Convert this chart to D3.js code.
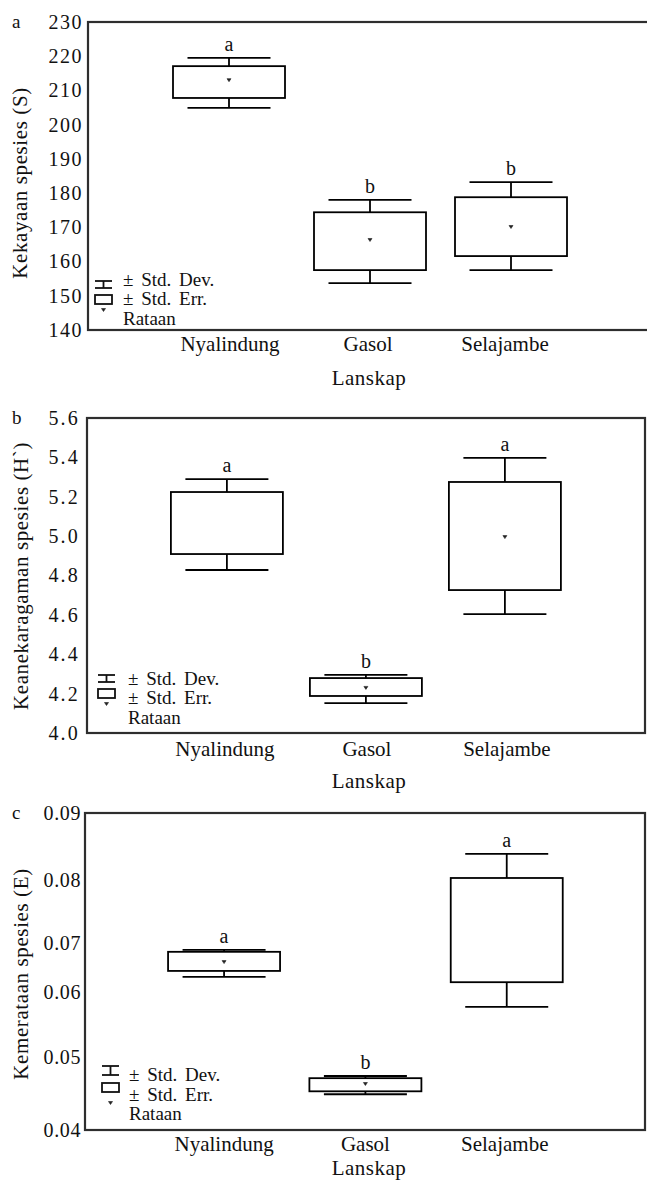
<!DOCTYPE html>
<html>
<head>
<meta charset="utf-8">
<script src="https://cdn.jsdelivr.net/npm/d3@7"></script>
<style>
  html, body { margin: 0; padding: 0; background: #fff; }
  svg { display: block; }
  svg text { font-family: "Liberation Serif", "Times New Roman", serif !important; fill: #111; }
</style>
</head>
<body>
<svg id="chart" width="647" height="1180"></svg>
<script>
// ---------- DATA ----------
const categories = ["Nyalindung", "Gasol", "Selajambe"];

// (a) Kekayaan spesies (S)
const richLowSD  = [204.9, 153.7, 157.5];
const richLowSE  = [207.8, 157.5, 161.6];
const richMean   = [213.0, 166.3, 170.1];
const richHighSE = [217.1, 174.4, 178.8];
const richHighSD = [219.5, 178.0, 183.2];
const richGroups = ["a", "b", "b"];
const richTicks  = [140, 150, 160, 170, 180, 190, 200, 210, 220, 230];

// (b) Keanekaragaman spesies (H`)
const divLowSD  = [4.828, 4.152, 4.604];
const divLowSE  = [4.909, 4.188, 4.726];
const divMean   = [null, 4.229, 4.995];
const divHighSE = [5.224, 4.279, 5.275];
const divHighSD = [5.290, 4.295, 5.397];
const divGroups = ["a", "b", "a"];
const divTicks  = [4.0, 4.2, 4.4, 4.6, 4.8, 5.0, 5.2, 5.4, 5.6];

// (c) Kemerataan spesies (E)
const evenLowSD  = [0.0631, 0.0449, 0.0577];
const evenLowSE  = [0.0643, 0.0453, 0.0620];
const evenMean   = [0.0661, 0.0463, null];
const evenHighSE = [0.0682, 0.0471, 0.0803];
const evenHighSD = [0.0686, 0.0474, 0.0839];
const evenGroups = ["a", "b", "a"];
const evenTicks  = [0.04, 0.05, 0.06, 0.07, 0.08, 0.09];

const legendLabels = ["\u00b1 Std. Dev.", "\u00b1 Std. Err.", "Rataan"];
const xTitle = "Lanskap";

// ---------- LAYOUT ----------
const FONT = "'Liberation Serif', 'Times New Roman', serif";
const panels = [
  {
    letter: "a", title: "Kekayaan spesies (S)",
    lowSD: richLowSD, lowSE: richLowSE, mean: richMean, highSE: richHighSE, highSD: richHighSD,
    groups: richGroups, ticks: richTicks, fmt: d3.format("d"),
    frame: {l: 88, t: 22, r: 649, b: 330},
    yDomain: [140, 230], yRange: [330, 22],
    xRange: [158.5, 581.5], labelShift: [1, -2, -6],
    tickPad: 5, tickLS: 1.5,
    titleX: 27, titleY: 183,
    catY: 351, xTitleY: 385,
    legend: {x: 95, wTop: 281, wBot: 288, bTop: 295, bBot: 304, mY: 310, tx: 123, ty: [286, 305, 325]}
  },
  {
    letter: "b", title: "Keanekaragaman spesies (H`)",
    lowSD: divLowSD, lowSE: divLowSE, mean: divMean, highSE: divHighSE, highSD: divHighSD,
    groups: divGroups, ticks: divTicks, fmt: d3.format(".1f"),
    frame: {l: 87, t: 418, r: 645, b: 733},
    yDomain: [4.0, 5.6], yRange: [733, 418],
    xRange: [157.4, 574.4], labelShift: [-2, 1, 2],
    tickPad: 7, tickLS: 2.2,
    titleX: 28, titleY: 576,
    catY: 756, xTitleY: 788,
    legend: {x: 98, wTop: 675, wBot: 682, bTop: 689, bBot: 698, mY: 704, tx: 128, ty: [685, 704, 724]}
  },
  {
    letter: "c", title: "Kemerataan spesies (E)",
    lowSD: evenLowSD, lowSE: evenLowSE, mean: evenMean, highSE: evenHighSE, highSD: evenHighSD,
    groups: evenGroups, ticks: evenTicks, fmt: d3.format(".2f"),
    frame: {l: 85, t: 813, r: 645, b: 1130},
    yDomain: [0.04, 0.05, 0.06, 0.07, 0.08, 0.09], yRange: [1130, 1057, 992, 943, 880, 813],
    xRange: [153.4, 577.4], labelShift: [0, 0, -2],
    tickPad: 4, tickLS: 0.6,
    titleX: 28, titleY: 974,
    catY: 1151, xTitleY: 1175,
    legend: {x: 102, wTop: 1066, wBot: 1075, bTop: 1083, bBot: 1092, mY: 1103, tx: 129, ty: [1081, 1101, 1120]}
  }
];

const BOX_W = 112, CAP_W = 83;
const svg = d3.select("#chart").attr("font-family", FONT);

panels.forEach(p => {
  const g = svg.append("g").attr("font-family", FONT);
  const x = d3.scaleBand().domain(categories).range(p.xRange);
  const y = d3.scaleLinear().domain(p.yDomain).range(p.yRange);
  const cx = c => x(c) + x.bandwidth() / 2;

  // frame
  g.append("rect")
    .attr("x", p.frame.l).attr("y", p.frame.t)
    .attr("width", p.frame.r - p.frame.l).attr("height", p.frame.b - p.frame.t)
    .attr("fill", "none").attr("stroke", "#2e2e2e").attr("stroke-width", 2.2);

  // y axis labels
  const ax = g.append("g")
    .attr("transform", `translate(${p.frame.l},0)`)
    .call(d3.axisLeft(y).tickValues(p.ticks).tickFormat(p.fmt).tickSize(0).tickPadding(p.tickPad));
  ax.attr("font-family", FONT).attr("font-size", 20);
  ax.select(".domain").remove();
  ax.selectAll("text")
    .attr("font-family", FONT)
    .attr("font-size", 20)
    .attr("letter-spacing", p.tickLS)
    .attr("fill", "#111");

  // panel letter
  g.append("text").attr("x", 12).attr("y", p.frame.t + 6)
    .attr("font-family", FONT).attr("font-size", 19).text(p.letter);

  // y title
  g.append("text")
    .attr("transform", `translate(${p.titleX},${p.titleY}) rotate(-90)`)
    .attr("text-anchor", "middle")
    .attr("font-family", FONT).attr("font-size", 21).attr("letter-spacing", 0.6)
    .text(p.title);

  // category labels
  g.selectAll(".cat").data(categories).enter().append("text")
    .attr("x", (d, i) => cx(d) + p.labelShift[i]).attr("y", p.catY)
    .attr("text-anchor", "middle").attr("font-family", FONT).attr("font-size", 21)
    .text(d => d);

  // x title
  g.append("text").attr("x", 369).attr("y", p.xTitleY)
    .attr("text-anchor", "middle").attr("font-family", FONT).attr("font-size", 21).attr("letter-spacing", 0.5)
    .text(xTitle);

  // boxes
  categories.forEach((c, i) => {
    const xc = cx(c);
    const bg = g.append("g").attr("stroke", "#000").attr("stroke-width", 1.8).attr("fill", "none");
    bg.append("line").attr("x1", xc).attr("x2", xc).attr("y1", y(p.highSE[i])).attr("y2", y(p.highSD[i]));
    bg.append("line").attr("x1", xc).attr("x2", xc).attr("y1", y(p.lowSE[i])).attr("y2", y(p.lowSD[i]));
    bg.append("line").attr("x1", xc - CAP_W / 2).attr("x2", xc + CAP_W / 2).attr("y1", y(p.highSD[i])).attr("y2", y(p.highSD[i]));
    bg.append("line").attr("x1", xc - CAP_W / 2).attr("x2", xc + CAP_W / 2).attr("y1", y(p.lowSD[i])).attr("y2", y(p.lowSD[i]));
    bg.append("rect").attr("x", xc - BOX_W / 2).attr("y", y(p.highSE[i]))
      .attr("width", BOX_W).attr("height", y(p.lowSE[i]) - y(p.highSE[i]));
    if (p.mean[i] != null) {
      g.append("path")
        .attr("transform", `translate(${xc},${y(p.mean[i])})`)
        .attr("d", "M-2,-1.5 L2,-1.5 L0,1.5 Z")
        .attr("fill", "#222").attr("stroke", "#222").attr("stroke-width", 0.6);
    }
    g.append("text").attr("x", xc).attr("y", y(p.highSD[i]) - 7)
      .attr("text-anchor", "middle").attr("font-family", FONT).attr("font-size", 20)
      .text(p.groups[i]);
  });

  // legend
  const L = p.legend, lw = 17, lg = g.append("g").attr("stroke", "#111").attr("stroke-width", 1.8).attr("fill", "none");
  lg.append("line").attr("x1", L.x).attr("x2", L.x + lw).attr("y1", L.wTop).attr("y2", L.wTop);
  lg.append("line").attr("x1", L.x).attr("x2", L.x + lw).attr("y1", L.wBot).attr("y2", L.wBot);
  lg.append("line").attr("x1", L.x + lw / 2).attr("x2", L.x + lw / 2).attr("y1", L.wTop).attr("y2", L.wBot);
  lg.append("rect").attr("x", L.x).attr("y", L.bTop).attr("width", lw).attr("height", L.bBot - L.bTop);
  g.append("path")
    .attr("transform", `translate(${L.x + lw / 2},${L.mY})`)
    .attr("d", "M-2,-1.5 L2,-1.5 L0,1.5 Z")
    .attr("fill", "#222").attr("stroke", "#222").attr("stroke-width", 0.6);
  g.selectAll(".leg").data(legendLabels).enter().append("text")
    .attr("x", L.tx).attr("y", (d, i) => L.ty[i])
    .attr("font-family", FONT).attr("font-size", 19).attr("word-spacing", 3)
    .text(d => d);
});
</script>
</body>
</html>
